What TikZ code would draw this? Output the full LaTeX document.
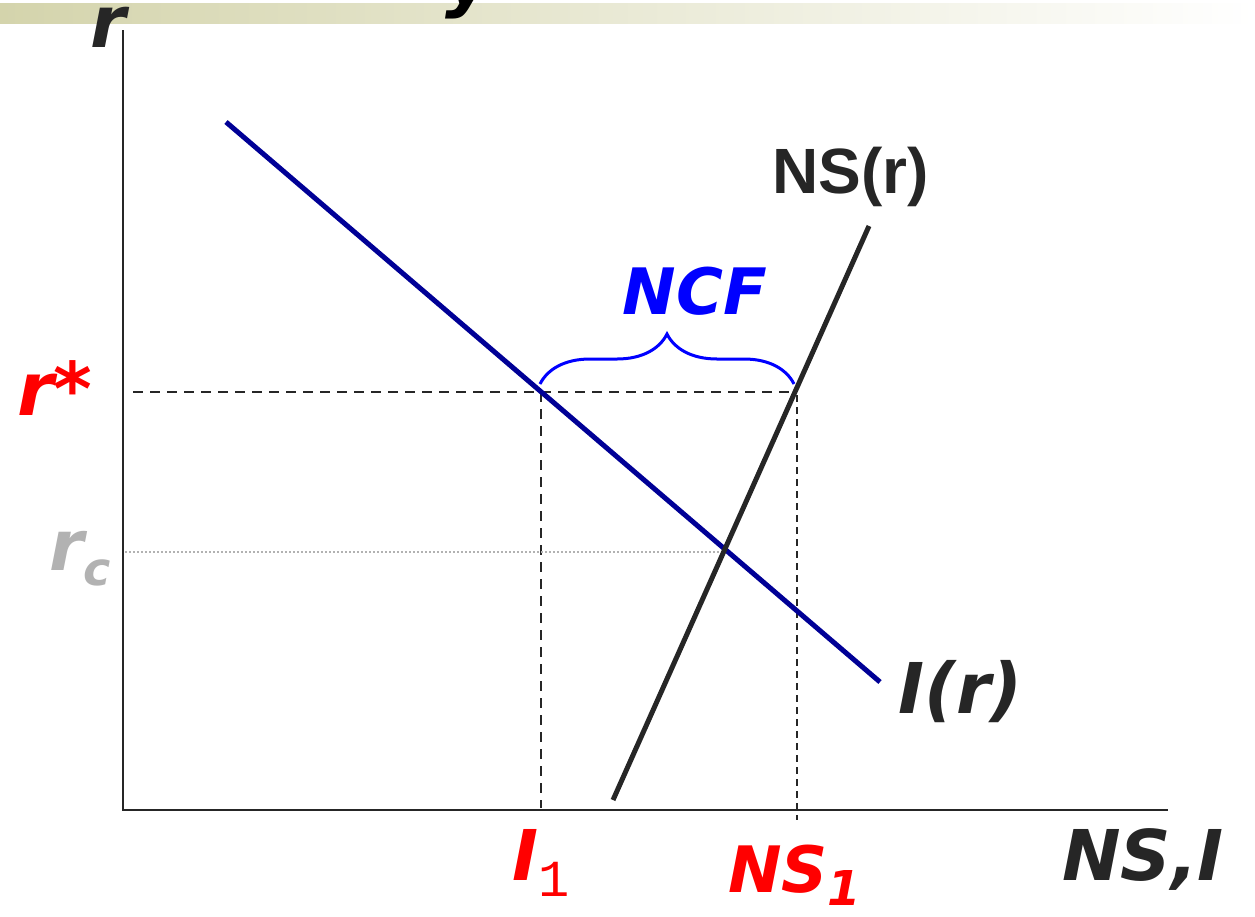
\documentclass[tikz,border=0pt]{standalone}
\usepackage{fontspec}
\setmainfont{DejaVu Sans}
\newfontfamily\nsfont{Liberation Sans}
\newfontfamily\courfont{Liberation Mono}
\usetikzlibrary{decorations.pathreplacing}
\definecolor{ncink}{RGB}{38,38,38}
\definecolor{ncinv}{RGB}{0,0,150}
\definecolor{ncred}{RGB}{255,0,0}
\definecolor{ncgray}{RGB}{178,178,178}
\definecolor{ncblue}{RGB}{0,0,255}
\definecolor{ncband}{RGB}{212,212,172}
\newcommand{\fsz}[1]{\fontsize{#1}{#1}\selectfont}
\tikzset{
  axis/.style={draw=ncink, line width=2.8pt},
  curve/.style={line width=5pt},
  guide/.style={draw=ncink, line width=2.2pt, dash pattern=on 10pt off 7pt},
  fguide/.style={draw=ncink, line width=1.6pt, dash pattern=on 7pt off 5pt},
  rcguide/.style={draw=ncgray, line width=2pt, dash pattern=on 2pt off 2pt},
  lbl/.style={inner sep=0pt, anchor=base west},
  brc/.style={draw=ncblue, line width=3pt, decorate,
    decoration={brace, amplitude=50pt}}
}

\begin{document}
\begin{tikzpicture}[x=1pt,y=-1pt]
  \useasboundingbox (0,0) rectangle (1255,916);
  \shade[left color=ncband, right color=white] (0,3) rectangle (1255,23);
  \node[lbl, text=black, font=\bfseries\itshape\fsz{72}] (ttl) at (445,3) {y};

  % axes
  \coordinate (ytop) at (123,30);
  \coordinate (O) at (123,810);
  \coordinate (xend) at (1168,810);
  \draw[axis] (ytop) -- (O) -- (xend);

  % guide lines
  \coordinate (rsax) at (133,392);
  \coordinate (eqI) at (541,392);
  \coordinate (eqS) at (795,392);
  \coordinate (eqS2) at (797,395);
  \coordinate (I1ax) at (541,808);
  \coordinate (NS1ax) at (797,820);
  \coordinate (rcax) at (125,552);
  \coordinate (cross) at (725,552);
  \draw[guide] (rsax) -- (eqS);
  \draw[guide] (eqI) -- (I1ax);
  \draw[fguide] (eqS2) -- (NS1ax);
  \draw[rcguide] (rcax) -- (cross);

  % curves
  \coordinate (inv0) at (226,122);
  \coordinate (inv1) at (880,682);
  \coordinate (ns0) at (613,800);
  \coordinate (ns1) at (869,226);
  \draw[curve, draw=ncinv] (inv0) -- (inv1);
  \draw[curve, draw=ncink] (ns0) -- (ns1);

  % brace
  \coordinate (brL) at (540,384);
  \coordinate (brR) at (794,384);
  \draw[brc] (brL) -- (brR);

  % labels
  \node[lbl, text=ncink, font=\bfseries\itshape\fsz{72}] (rlab) at (90,47) {r};
  \node[lbl, text=ncred, font=\bfseries\itshape\fsz{74}] (rstar) at (17,415) {r*};
  \node[lbl, text=ncgray, font=\bfseries\itshape\fsz{70}] (rc) at (49,570)
    {r\raisebox{-15pt}{\fsz{46}c}};
  \node[lbl, anchor=base, text=ncblue, font=\bfseries\itshape\fsz{64}] (ncf) at (695,314) {NCF};
  \node[lbl, text=ncink, font=\nsfont\bfseries\fsz{64}] (nsr) at (772,193) {NS(r)};
  \node[lbl, text=ncink, font=\bfseries\itshape\fsz{70}] (ir) at (898,713) {I(r)};
  \node[lbl, text=ncred, font=\bfseries\itshape\fsz{70}] (i1) at (512,880)
    {I\raisebox{-16pt}{\courfont\mdseries\upshape\fsz{52}1}};
  \node[lbl, text=ncred, font=\bfseries\itshape\fsz{64}] (ns1lab) at (728,892)
    {NS\raisebox{-13pt}{\fsz{48}1}};
  \node[lbl, text=ncink, font=\bfseries\itshape\fsz{70}] (nsi) at (1062,880) {NS,I};
\end{tikzpicture}
\end{document}
